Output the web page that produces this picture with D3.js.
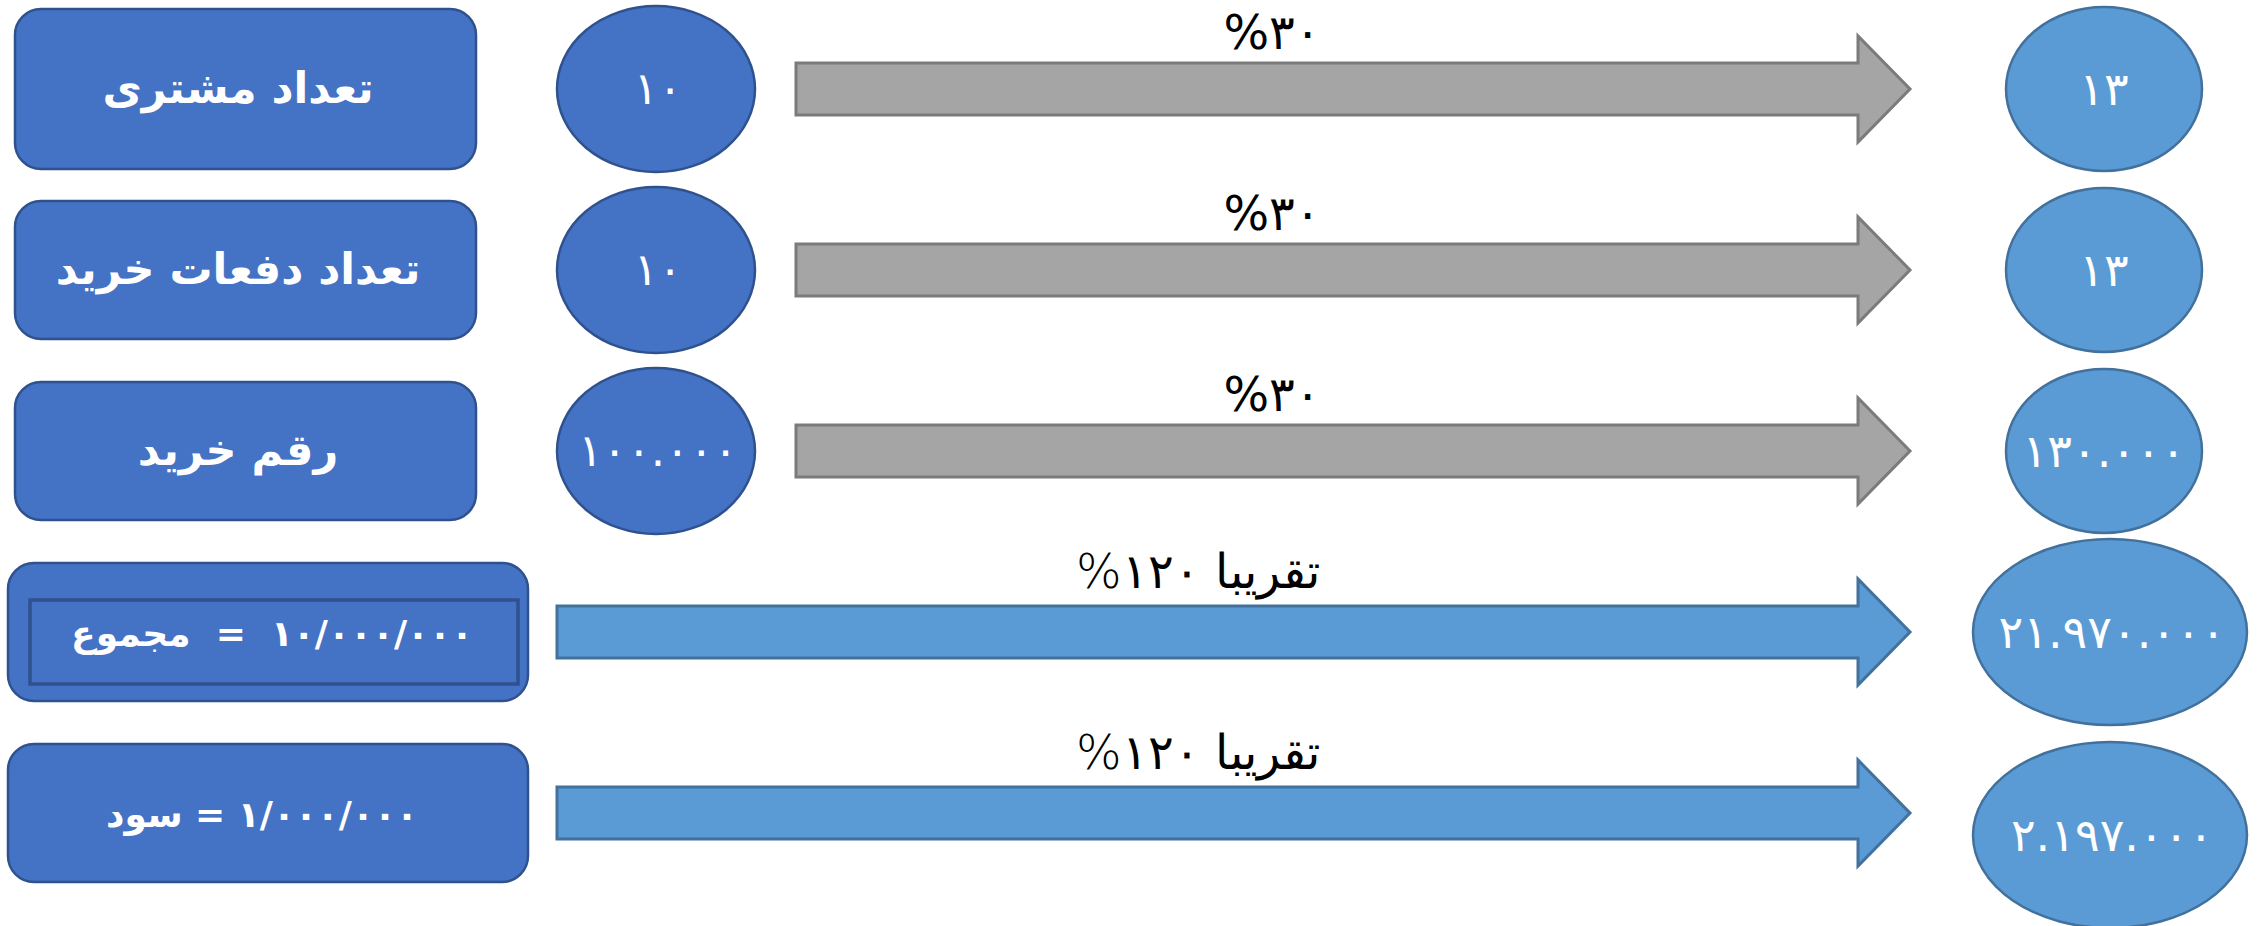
<!DOCTYPE html>
<html>
<head>
<meta charset="utf-8">
<script src="https://cdn.jsdelivr.net/npm/d3@7"></script>
<style>
  body { margin: 0; background: #fff; }
  svg text { font-family: "DejaVu Sans", sans-serif; }
</style>
</head>
<body>
<svg id="flow"></svg>
<script>
// rows of the diagram, top to bottom
const metrics    = ["تعداد مشتری", "تعداد دفعات خرید", "رقم خرید", "مجموع", "سود"];
const baseValues = [10, 10, 100000, 10000000, 1000000];
const newValues  = [13, 13, 130000, 21970000, 2197000];
const growthPct  = [30, 30, 30, 120, 120];
const approx     = [false, false, false, true, true];

const width = 2265, height = 926;

const fa = n => String(n).replace(/\d/g, d => "۰۱۲۳۴۵۶۷۸۹"[d]);
const group = (n, sep) => fa(d3.format(",")(n).replace(/,/g, sep));

const rows = d3.range(metrics.length);
const y = d3.scalePoint().domain(rows).range([89, 813]);

const svg = d3.select('#flow')
  .attr('width', width)
  .attr('height', height);

// left rounded boxes
const box = i => i < 3
  ? {x: 15, w: 461, h: i == 0 ? 160 : 138}
  : {x: 8, w: 520, h: 138};

const g = svg.selectAll('g.row')
  .data(rows)
  .join('g')
    .attr('class', 'row');

g.append('rect')
  .attr('x', i => box(i).x)
  .attr('y', i => y(i) - box(i).h / 2)
  .attr('width', i => box(i).w)
  .attr('height', i => box(i).h)
  .attr('rx', 26)
  .attr('fill', '#4472C4')
  .attr('stroke', '#2F528F')
  .attr('stroke-width', 2.5);

// inner frame on the "total" box
g.filter(i => i == 3).append('rect')
  .attr('x', 30)
  .attr('y', i => y(i) - 32)
  .attr('width', 488)
  .attr('height', 84)
  .attr('fill', 'none')
  .attr('stroke', '#2F528F')
  .attr('stroke-width', 3.5);

g.append('text')
  .attr('direction', 'rtl')
  .attr('text-anchor', 'middle')
  .attr('x', i => i < 3 ? 238 : (i == 3 ? 272 : 262))
  .attr('y', i => y(i) + 14)
  .attr('fill', '#fff')
  .attr('font-weight', 'bold')
  .attr('font-size', i => i < 3 ? 43 : 36)
  .attr('xml:space', 'preserve')
  .text(i => i < 3 ? metrics[i]
    : group(baseValues[i], '/') + (i == 3 ? '  =  ' : ' = ') + metrics[i]);

// start values (only for the first three rows)
const lhs = g.filter(i => i < 3);
lhs.append('ellipse')
  .attr('cx', 656)
  .attr('cy', i => y(i))
  .attr('rx', 99)
  .attr('ry', 83)
  .attr('fill', '#4472C4')
  .attr('stroke', '#2F528F')
  .attr('stroke-width', 2.5);

lhs.append('text')
  .attr('text-anchor', 'middle')
  .attr('x', 658)
  .attr('y', i => y(i) + 15)
  .attr('fill', '#fff')
  .attr('font-size', 45)
  .text(i => group(baseValues[i], '.'));

// arrows
const tipX = 1910, headX = 1858, bodyH = 26, headH = 53;
const arrow = i => {
  const x0 = i < 3 ? 796 : 557, c = y(i);
  return d3.line()([
    [x0, c - bodyH], [headX, c - bodyH], [headX, c - headH], [tipX, c],
    [headX, c + headH], [headX, c + bodyH], [x0, c + bodyH]
  ]) + 'Z';
};

g.append('path')
  .attr('d', arrow)
  .attr('fill', i => approx[i] ? '#5B9BD5' : '#A5A5A5')
  .attr('stroke', i => approx[i] ? '#41719C' : '#7B7B7B')
  .attr('stroke-width', 3);

// growth labels above the arrows
g.append('text')
  .attr('direction', i => approx[i] ? 'rtl' : 'ltr')
  .attr('text-anchor', 'middle')
  .attr('x', i => approx[i] ? 1198 : 1272)
  .attr('y', i => y(i) - (approx[i] ? 44 : 40))
  .attr('fill', '#000')
  .attr('font-size', 48)
  .attr('font-weight', i => approx[i] ? 300 : 'normal')
  .text(i => approx[i]
    ? 'تقریبا ' + fa(growthPct[i]) + '%'
    : '%' + fa(growthPct[i]));

// results
g.append('ellipse')
  .attr('cx', i => i < 3 ? 2104 : 2110)
  .attr('cy', i => y(i) + (i == 4 ? 22 : 0))
  .attr('rx', i => i < 3 ? 98 : 137)
  .attr('ry', i => i < 3 ? 82 : 93)
  .attr('fill', '#5B9BD5')
  .attr('stroke', '#41719C')
  .attr('stroke-width', 2.5);

g.append('text')
  .attr('text-anchor', 'middle')
  .attr('x', i => i < 3 ? 2104 : 2112)
  .attr('y', i => y(i) + (i == 4 ? 22 : 0) + 16)
  .attr('fill', '#fff')
  .attr('font-size', 46)
  .text(i => group(newValues[i], '.'));
</script>
</body>
</html>
